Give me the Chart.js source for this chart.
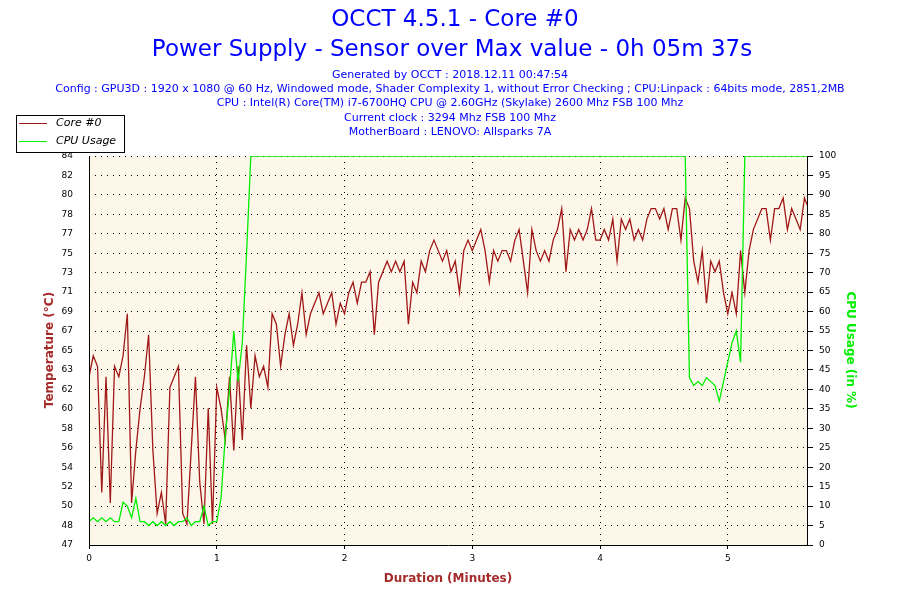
<!DOCTYPE html>
<html>
<head>
<meta charset="utf-8">
<script src="https://cdn.jsdelivr.net/npm/chart.js@4"></script>
<style>
  body { margin: 0; background: #fff; }
  #wrap { width: 900px; height: 600px; position: relative; }
</style>
</head>
<body>
<div id="wrap"><canvas id="chart" width="900" height="600"></canvas></div>
<script>
// Data (one sample every 2 seconds)
const sampleSeconds = 2;
const coreTemp = [
  63,65,64,52,63,51,64,63,65,69,51,56,60,63,67,56,50,52,49,62,63,64,50,49,56,63,53,49,60,49,
  62,60,57,63,56,64,57,66,60,65,63,64,62,69,68,64,67,69,66,68,71,67,69,70,71,69,70,71,68,70,
  69,71,72,70,72,72,73,67,72,73,74,73,74,73,74,68,72,71,74,73,75,76,75,74,75,73,74,71,75,76,
  75,76,77,75,72,75,74,75,75,74,76,77,74,71,77,75,74,75,74,76,77,79,73,77,76,77,76,77,79,76,
  76,77,76,78,74,78,77,78,76,77,76,78,79,79,78,79,77,79,79,76,80,
  79,74,72,75,70,74,73,74,71,69,71,69,
  75,71,75,77,78,79,79,76,79,79,80,77,79,78,77,80,79,80
];
const cpuUsage = [
  6,7,6,7,6,7,6,6,11,10,7,12,6,6,5,6,5,6,5,6,5,6,6,7,5,6,6,10,5,6,
  6,12,28,40,55,42,52,75,100,100,100,100,100,100,100,100,100,100,100,100,100,100,100,100,100,100,100,100,100,100,
  100,100,100,100,100,100,100,100,100,100,100,100,100,100,100,100,100,100,100,100,100,100,100,100,100,100,100,100,100,100,
  100,100,100,100,100,100,100,100,100,100,100,100,100,100,100,100,100,100,100,100,100,100,100,100,100,100,100,100,100,100,
  100,100,100,100,100,100,100,100,100,100,100,100,100,100,100,100,100,100,100,100,100,
  43,41,42,41,43,42,41,37,42,47,52,55,
  47,100,100,100,100,100,100,100,100,100,100,100,100,100,100,100,100,100
];
const tempTickLabels = ['47','48','50','52','54','56','58','60','62','63','65','67','69','71','73','75','77','78','80','82','84'];
const durationMax = 5.62;
const tempMin = 47, tempMax = 84;

const toPoints = arr => arr.map((v, i) => ({ x: i * sampleSeconds / 60, y: v }));

const textLines = [
  'Generated by OCCT : 2018.12.11 00:47:54',
  'Config : GPU3D : 1920 x 1080 @ 60 Hz, Windowed mode, Shader Complexity 1, without Error Checking ; CPU:Linpack : 64bits mode, 2851,2MB',
  'CPU : Intel(R) Core(TM) i7-6700HQ CPU @ 2.60GHz (Skylake) 2600 Mhz FSB 100 Mhz',
  'Current clock : 3294 Mhz FSB 100 Mhz',
  'MotherBoard : LENOVO: Allsparks 7A'
];

const FONT = '"DejaVu Sans", Verdana, sans-serif';

// Background + texts + legend
const decor = {
  id: 'decor',
  beforeDraw(chart) {
    const { ctx, chartArea: a } = chart;
    ctx.save();
    ctx.fillStyle = '#fdf7ea';
    ctx.fillRect(a.left, a.top, a.right - a.left, a.bottom - a.top);
    ctx.restore();
  },
  afterDraw(chart) {
    const { ctx, chartArea: a } = chart;
    ctx.save();
    ctx.fillStyle = '#0000ff';
    ctx.textAlign = 'center';
    ctx.textBaseline = 'middle';
    ctx.font = '23px ' + FONT;
    ctx.fillText('OCCT 4.5.1 - Core #0', 455, 20);
    ctx.fillText('Power Supply - Sensor over Max value - 0h 05m 37s', 452, 50);
    ctx.font = '11px ' + FONT;
    textLines.forEach((t, i) => ctx.fillText(t, 450, 75 + i * 14.3));

    // axis titles
    ctx.font = 'bold 12px ' + FONT;
    ctx.fillStyle = '#a52a2a';
    ctx.fillText('Duration (Minutes)', 448, 579);
    ctx.save();
    ctx.translate(50, 350);
    ctx.rotate(-Math.PI / 2);
    ctx.fillText('Temperature (°C)', 0, 0);
    ctx.restore();
    ctx.save();
    ctx.fillStyle = '#00ee00';
    ctx.translate(850, 350);
    ctx.rotate(Math.PI / 2);
    ctx.fillText('CPU Usage (in %)', 0, 0);
    ctx.restore();

    // legend box
    ctx.fillStyle = '#fff';
    ctx.fillRect(16, 115, 108, 37);
    ctx.strokeStyle = '#000';
    ctx.lineWidth = 1;
    ctx.strokeRect(16.5, 115.5, 108, 37);
    ctx.strokeStyle = '#a01818';
    ctx.beginPath(); ctx.moveTo(19, 123.5); ctx.lineTo(47, 123.5); ctx.stroke();
    ctx.strokeStyle = '#00ee00';
    ctx.beginPath(); ctx.moveTo(19, 141.5); ctx.lineTo(47, 141.5); ctx.stroke();
    ctx.fillStyle = '#000';
    ctx.textAlign = 'left';
    ctx.font = 'italic 11px ' + FONT;
    ctx.fillText('Core #0', 56, 123);
    ctx.fillText('CPU Usage', 56, 141);

    // frame
    ctx.strokeStyle = '#000';
    ctx.beginPath();
    ctx.moveTo(a.left + 0.5, a.top); ctx.lineTo(a.left + 0.5, a.bottom + 0.5);
    ctx.lineTo(a.right + 0.5, a.bottom + 0.5); ctx.lineTo(a.right + 0.5, a.top);
    ctx.stroke();
    ctx.restore();
  }
};

new Chart(document.getElementById('chart'), {
  type: 'line',
  data: {
    datasets: [
      { label: 'CPU Usage', data: toPoints(cpuUsage), yAxisID: 'yCpu',
        borderColor: '#00ee00', borderWidth: 1.3, pointRadius: 0, tension: 0 },
      { label: 'Core #0', data: toPoints(coreTemp), yAxisID: 'yTemp',
        borderColor: '#a01818', borderWidth: 1.3, pointRadius: 0, tension: 0 }
    ]
  },
  plugins: [decor],
  options: {
    responsive: false,
    animation: false,
    layout: { padding: { top: 156, left: 0, right: 0, bottom: 0 } },
    plugins: { legend: { display: false }, tooltip: { enabled: false } },
    scales: {
      x: {
        type: 'linear', min: 0, max: durationMax,
        afterFit: s => { s.height = 55; },
        afterBuildTicks: s => { s.ticks = [0, 1, 2, 3, 4, 5].map(v => ({ value: v })); },
        ticks: { color: '#000', font: { size: 9, family: FONT }, padding: 4,
                 callback: v => String(v) },
        grid: { color: '#000', lineWidth: 1, tickLength: 4, drawTicks: true,
                tickColor: '#000' },
        border: { display: false, dash: [1, 5] }
      },
      yTemp: {
        position: 'left', min: tempMin, max: tempMax,
        afterFit: s => { s.width = 89; },
        afterBuildTicks: s => {
          s.ticks = tempTickLabels.map((t, i) => ({ value: tempMin + (tempMax - tempMin) * i / 20 }));
        },
        ticks: { color: '#000', font: { size: 9, family: FONT }, padding: 8,
                 callback: (v, i) => tempTickLabels[i] },
        grid: { display: false },
        border: { display: false }
      },
      yCpu: {
        position: 'right', min: 0, max: 100,
        afterFit: s => { s.width = 93; },
        ticks: { stepSize: 5, color: '#000', font: { size: 9, family: FONT }, padding: 6 },
        grid: { color: '#000', lineWidth: 1, tickLength: 6, tickColor: '#000' },
        border: { display: false, dash: [1, 5] }
      }
    }
  }
});
</script>
</body>
</html>
